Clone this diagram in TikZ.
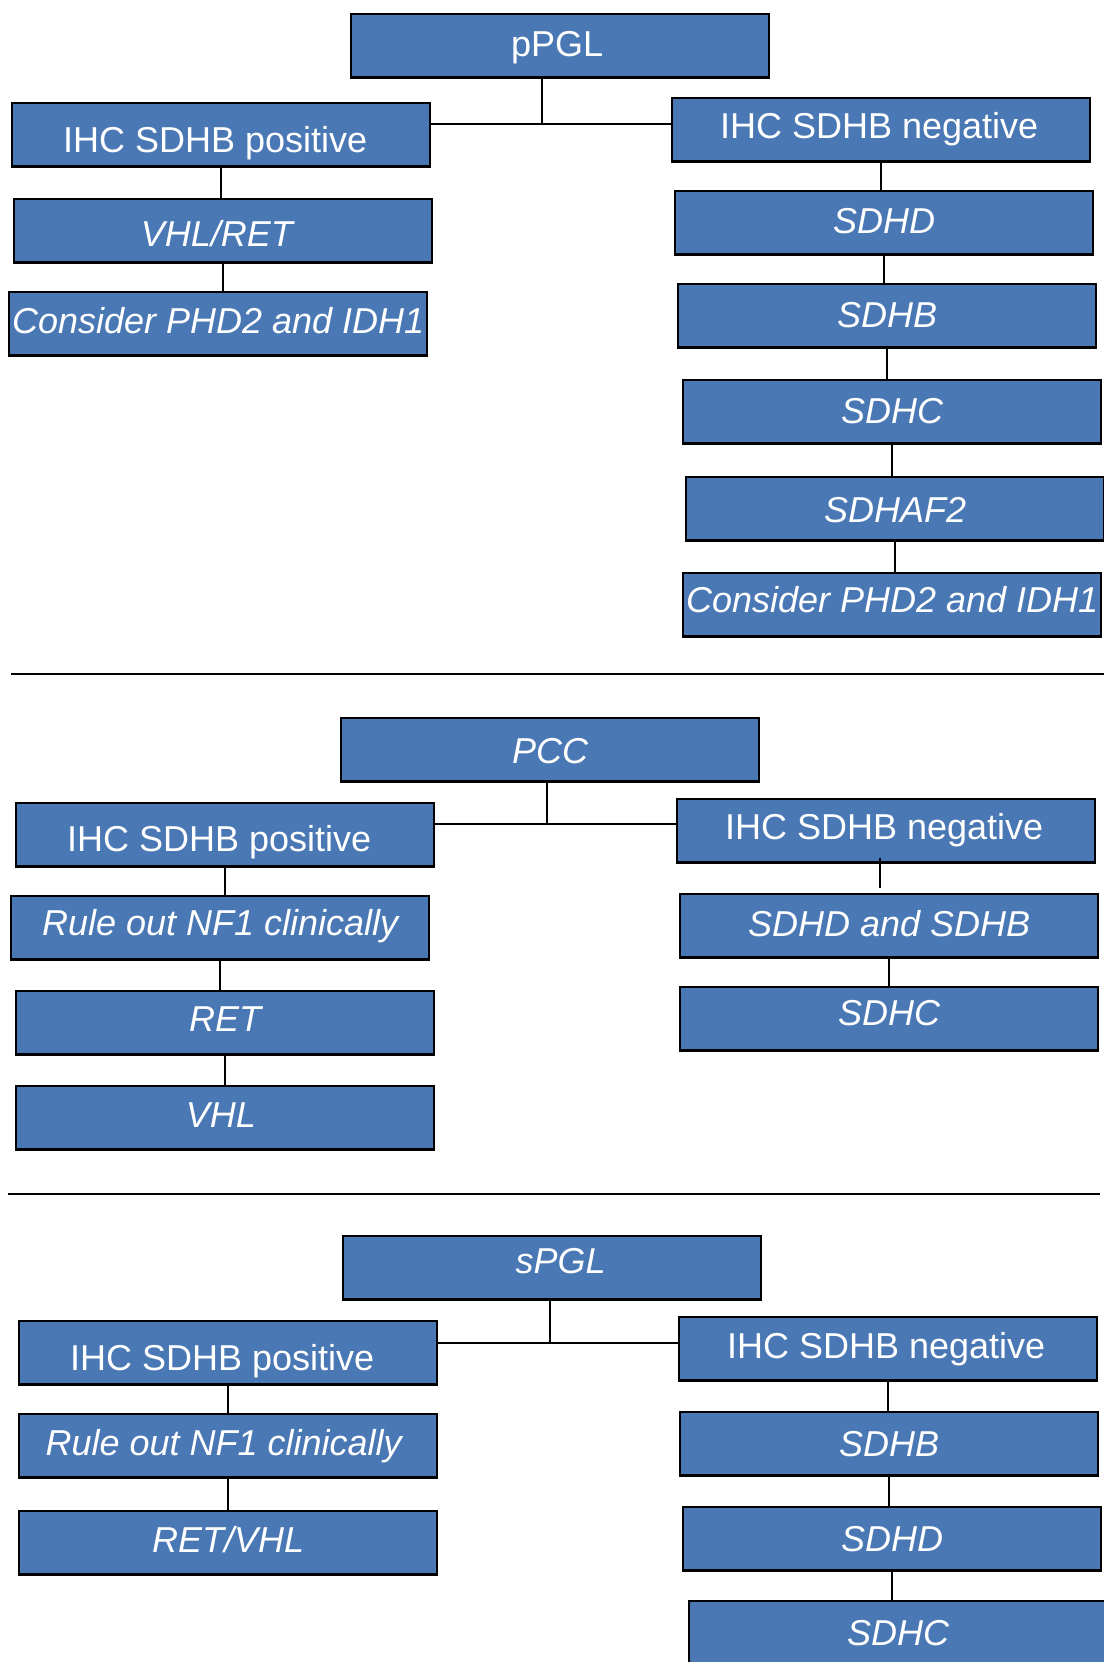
\documentclass[tikz,border=0pt]{standalone}
\usepackage{fontspec}
\setmainfont{Liberation Sans}
\definecolor{boxblue}{HTML}{4A78B4}
\newcommand{\padR}[1]{\hspace*{#1}}
\begin{document}
\begin{tikzpicture}[x=0.5pt,y=-0.5pt,
  gbox/.style={draw=black, line width=1.2pt, fill=boxblue, text=white, anchor=north west,
    minimum width=209pt, minimum height=31.6pt, inner sep=0pt,
    text height=12.75pt, text depth=0pt,
    font=\fontsize{18}{20}\selectfont},
  gi/.style={gbox, font=\fontsize{18}{20}\selectfont\itshape},
  tv/.style={text height=#1, text depth=0pt},
  link/.style={draw=black, line width=0.8pt},
  sepline/.style={draw=black, line width=1pt}]
\useasboundingbox (0,0) rectangle (1104,1662);
\clip (0,0) rectangle (1104,1662);

% ---------- Section 1: pPGL ----------
\node[gbox, tv=10.6pt] (ppgl) at (350,13) {pPGL\padR{3pt}};
\node[gbox, tv=17.5pt] (pos1) at (11,102) {IHC SDHB positive\padR{6pt}};
\node[gbox, tv=8.5pt] (neg1) at (671,97) {IHC SDHB negative\padR{2pt}};
\node[gi, tv=15.4pt] (vhlret) at (13,198) {VHL/RET\padR{6.4pt}};
\node[gi, tv=9.6pt] (cons1) at (8,291) {Consider PHD2 and IDH1};
\node[gi, tv=10.6pt] (sdhd1) at (674,190) {SDHD};
\node[gi, tv=11.7pt] (sdhb1) at (677,283) {SDHB};
\node[gi, tv=11.7pt] (sdhc1) at (682,379) {SDHC};
\node[gi, tv=13.8pt] (sdhaf2) at (685,476) {SDHAF2};
\node[gi, tv=7.5pt] (cons2) at (682,572) {Consider PHD2 and IDH1};
\coordinate (j1) at (542,124);
\draw[link] (j1 |- ppgl.south) -- (j1);
\draw[link] (pos1.east |- j1) -- (neg1.west |- j1);
\draw[link] (pos1.south) -- (pos1.south |- vhlret.north);
\draw[link] (vhlret.south) -- (vhlret.south |- cons1.north);
\draw[link] (neg1.south) -- (neg1.south |- sdhd1.north);
\draw[link] (sdhd1.south) -- (sdhd1.south |- sdhb1.north);
\draw[link] (sdhb1.south) -- (sdhb1.south |- sdhc1.north);
\draw[link] (sdhc1.south) -- (sdhc1.south |- sdhaf2.north);
\draw[link] (sdhaf2.south) -- (sdhaf2.south |- cons2.north);
\draw[sepline] (11,674) -- (1104,674);

% ---------- Section 2: PCC ----------
\node[gi, tv=13.3pt] (pcc) at (340,717) {PCC};
\node[gbox, tv=17pt] (pos2) at (15,802) {IHC SDHB positive\padR{6pt}};
\node[gbox, tv=8.5pt] (neg2) at (676,798) {IHC SDHB negative\padR{2pt}};
\node[gi, tv=7.5pt] (nf1a) at (10,895) {Rule out NF1 clinically};
\node[gi, tv=8.5pt] (ret) at (15,990) {RET};
\node[gi, tv=9.6pt] (vhl) at (15,1085) {VHL\padR{4.2pt}};
\node[gi, tv=10.6pt] (sdhdb) at (679,893) {SDHD and SDHB};
\node[gi, tv=6.4pt] (sdhc2) at (679,986) {SDHC};
\coordinate (j2) at (547,824);
\draw[link] (j2 |- pcc.south) -- (j2);
\draw[link] (pos2.east |- j2) -- (neg2.west |- j2);
\draw[link] (pos2.south) -- (pos2.south |- nf1a.north);
\draw[link] (nf1a.south) -- (nf1a.south |- ret.north);
\draw[link] (ret.south) -- (ret.south |- vhl.north);
\draw[link, shorten <=-3pt, shorten >=2.5pt] ([xshift=-3pt]neg2.south) -- ([xshift=-3pt]neg2.south |- sdhdb.north);
\draw[link] (sdhdb.south) -- (sdhdb.south |- sdhc2.north);
\draw[sepline] (8,1194) -- (1100,1194);

% ---------- Section 3: sPGL ----------
\node[gi, tv=5.9pt] (spgl) at (342,1235) {\padR{8.5pt}sPGL};
\node[gbox, tv=18pt] (pos3) at (18,1320) {IHC SDHB positive\padR{6pt}};
\node[gbox, tv=9.6pt] (neg3) at (678,1316) {IHC SDHB negative\padR{2pt}};
\node[gi, tv=9.6pt] (nf1b) at (18,1413) {Rule out NF1 clinically\padR{4.5pt}};
\node[gi, tv=9.6pt] (retvhl) at (18,1510) {RET/VHL};
\node[gi] (sdhb3) at (679,1411) {SDHB};
\node[gi] (sdhd3) at (682,1506) {SDHD};
\node[gi] (sdhc3) at (688,1600) {SDHC};
\coordinate (j3) at (550,1343);
\draw[link] (j3 |- spgl.south) -- (j3);
\draw[link] (pos3.east |- j3) -- (neg3.west |- j3);
\draw[link] (pos3.south) -- (pos3.south |- nf1b.north);
\draw[link] (nf1b.south) -- (nf1b.south |- retvhl.north);
\draw[link] (neg3.south) -- (neg3.south |- sdhb3.north);
\draw[link] (sdhb3.south) -- (sdhb3.south |- sdhd3.north);
\draw[link] (sdhd3.south) -- (sdhd3.south |- sdhc3.north);
\end{tikzpicture}
\end{document}
